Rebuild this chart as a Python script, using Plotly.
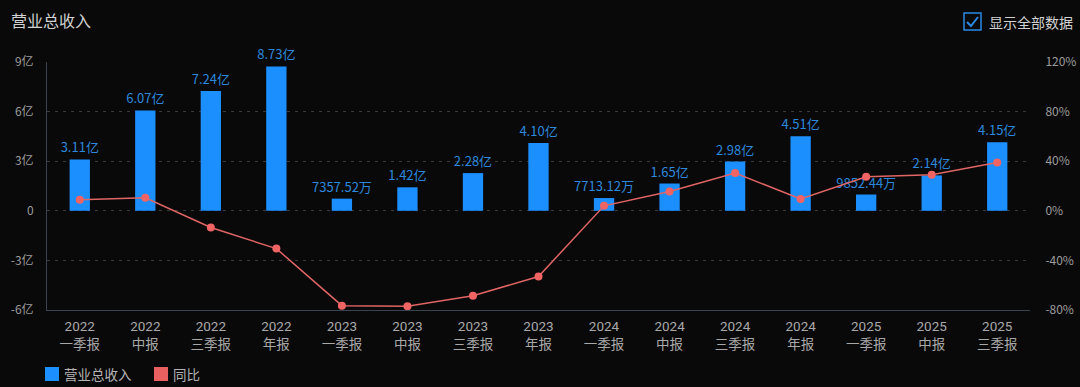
import plotly.graph_objects as go

categories = ["2022<br>一季报", "2022<br>中报", "2022<br>三季报", "2022<br>年报",
              "2023<br>一季报", "2023<br>中报", "2023<br>三季报", "2023<br>年报",
              "2024<br>一季报", "2024<br>中报", "2024<br>三季报", "2024<br>年报",
              "2025<br>一季报", "2025<br>中报", "2025<br>三季报"]
revenue_yi = [3.11, 6.07, 7.24, 8.73, 0.735752, 1.42, 2.28, 4.10,
              0.771312, 1.65, 2.98, 4.51, 0.985244, 2.14, 4.15]
yoy_pct = [9.0, 10.5, -13.5, -30.5, -76.5, -77.0, -68.5, -53.0,
           4.0, 15.5, 30.5, 9.5, 27.5, 29.0, 39.0]
left_ticks = [-6, -3, 0, 3, 6, 9]
left_ticktext = ["-6亿", "-3亿", "0", "3亿", "6亿", "9亿"]
right_ticks = [-80, -40, 0, 40, 80, 120]
right_ticktext = ["-80%", "-40%", "0%", "40%", "80%", "120%"]
legend_names = ["营业总收入", "同比"]


def fmt(v):
    return f"{v * 10000:.2f}万" if abs(v) < 1 else f"{v:.2f}亿"


bar_text = [fmt(v) for v in revenue_yi]

BG = "#090909"
FONT = "Noto Sans CJK SC"
TICK_FONT = "Roboto, Noto Sans CJK SC"
BAR_C = "#1c8fff"
LINE_C = "#e06565"
L, R, T, B = 47, 50, 62, 77
W, H = 1080, 387
PW, PH = W - L - R, H - T - B


def px(x):
    return (x - L) / PW


def py(y):
    return (H - B - y) / PH


fig = go.Figure()
fig.add_trace(go.Bar(
    x=categories, y=revenue_yi, name=legend_names[0],
    marker=dict(color=BAR_C, line=dict(width=0)),
    width=0.31, text=bar_text, textposition="outside", constraintext="none",
    textfont=dict(color="#2d88dc", size=13, family=FONT),
    cliponaxis=False, showlegend=False, hoverinfo="skip"))
fig.add_trace(go.Scatter(
    x=categories, y=yoy_pct, name=legend_names[1], yaxis="y2", mode="lines+markers",
    line=dict(color=LINE_C, width=1.5),
    marker=dict(color="#f06464", size=8),
    showlegend=False, cliponaxis=False))

fig.update_layout(
    width=W, height=H, paper_bgcolor=BG, plot_bgcolor=BG,
    margin=dict(l=L, r=R, t=T, b=B, pad=0, autoexpand=False),
    font=dict(family=FONT, color="#a8a8a8", size=12),
    showlegend=False,
    xaxis=dict(type="category", range=[-0.5, 14.5], showgrid=False, showline=True,
               linecolor="#3b4250", linewidth=1, ticks="outside", ticklen=4,
               tickcolor="rgba(0,0,0,0)",
               tickfont=dict(size=13.5, color="#a8a8a8", family=TICK_FONT),
               zeroline=False, fixedrange=True, automargin=False),
    yaxis=dict(range=[-6, 9], tickvals=left_ticks, ticktext=left_ticktext,
               showgrid=True, gridcolor="#3a3a3a", griddash="3px,5px", gridwidth=1,
               zeroline=False, showline=True, linecolor="#3b4250", linewidth=1,
               ticks="outside", ticklen=10, tickcolor="rgba(0,0,0,0)", automargin=False,
               tickfont=dict(size=12, color="#9c9c9c")),
    yaxis2=dict(range=[-80, 120], tickvals=right_ticks, ticktext=right_ticktext,
                overlaying="y", side="right", showgrid=False, zeroline=False,
                showline=False, ticks="outside", ticklen=12, tickcolor="rgba(0,0,0,0)",
                automargin=False, tickfont=dict(size=12, color="#9c9c9c")),
)

# title
fig.add_annotation(text="营业总收入", xref="paper", yref="paper", x=px(9), y=py(20),
                   xanchor="left", yanchor="middle", showarrow=False,
                   font=dict(size=16, color="#d2d2d2", family=FONT))
# checkbox
fig.add_shape(type="rect", xref="paper", yref="paper",
              x0=px(964), x1=px(981), y0=py(30), y1=py(13),
              line=dict(color="#2a8ae6", width=1.5), fillcolor="rgba(0,0,0,0)")
fig.add_shape(type="path", xref="paper", yref="paper",
              path=f"M {px(967)} {py(22)} L {px(971)} {py(26)} L {px(978)} {py(17)}",
              line=dict(color="#2a8ae6", width=2))
fig.add_annotation(text="显示全部数据", xref="paper", yref="paper", x=px(987), y=py(22),
                   xanchor="left", yanchor="middle", showarrow=False,
                   font=dict(size=14, color="#d2d2d2", family=FONT))

# legend (drawn manually)
legend_items = [(45, BAR_C, legend_names[0]), (154, "#e8605f", legend_names[1])]
for x0, col, name in legend_items:
    fig.add_shape(type="rect", xref="paper", yref="paper",
                  x0=px(x0), x1=px(x0 + 14), y0=py(381), y1=py(367),
                  line=dict(width=0), fillcolor=col)
    fig.add_annotation(text=name, xref="paper", yref="paper", x=px(x0 + 17), y=py(374),
                       xanchor="left", yanchor="middle", showarrow=False,
                       font=dict(size=13.5, color="#b4b4b4", family=FONT))

fig.write_html("out.html", config={"displayModeBar": False},
               post_script="document.body.style.margin='0';")
